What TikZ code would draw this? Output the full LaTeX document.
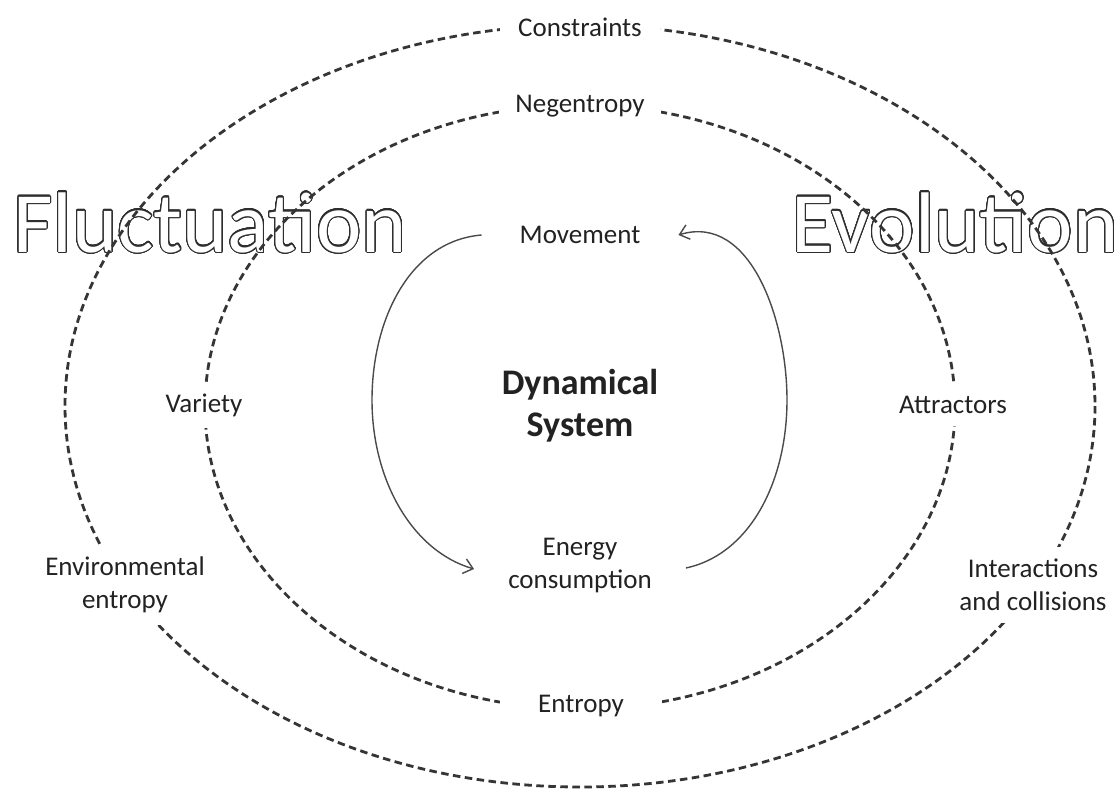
\documentclass[tikz,border=0pt]{standalone}
\usepackage{fontspec}
\setmainfont{Carlito}
\usepackage[copies]{contour}
\contourlength{1.1pt}
\contournumber{32}
\usetikzlibrary{arrows.meta}
\definecolor{ink}{HTML}{222222}
\definecolor{dashink}{HTML}{353535}
\definecolor{arcink}{HTML}{4A4A4A}
\definecolor{outlineink}{HTML}{2E2E2E}
\tikzset{
  ring/.style={draw=dashink, line width=2.8pt, dash pattern=on 7.5pt off 4.5pt},
  lbl/.style={fill=white, text=ink, font=\fontsize{27}{33}\selectfont, align=center, inner xsep=16pt, inner ysep=10pt},
  plain/.style={text=ink, font=\fontsize{27}{33}\selectfont, align=center},
  core/.style={text=ink, font=\bfseries\fontsize{36}{42}\selectfont, align=center},
  hollow/.style={font=\fontsize{86}{90}\selectfont, anchor=base, inner sep=0pt},
  cycle/.style={draw=arcink, line width=1.4pt, -{Straight Barb[length=9pt,width=15pt,line width=1.4pt]}}
}
% hollow lettering: dark rim around white-filled glyphs
\newcommand{\hollowtext}[1]{\contour{outlineink}{\color{white}#1}}
\begin{document}
\begin{tikzpicture}[x=1pt,y=-1pt]
  \useasboundingbox (0,0) rectangle (1120,790);
  \fill[white] (0,0) rectangle (1120,790);

  % large outlined words behind the rings
  \node[hollow] (fluct) at (210,252) {\hollowtext{Fluctuation}};
  \node[hollow] (evol) at (955,252) {\hollowtext{Evolution}};

  % the two dashed rings
  \draw[ring] (580,406) ellipse [x radius=515, y radius=381];
  \draw[ring] (580,407) ellipse [x radius=375, y radius=302];

  % labels sitting on the rings (white boxes break the dashes)
  \node[lbl, inner xsep=18pt] (constr) at (580,27) {Constraints};
  \node[lbl, inner xsep=16pt] (negent) at (580,106) {Negentropy};
  \node[lbl, inner xsep=4pt, inner ysep=12pt] (variety) at (204,405) {Variety};
  \node[lbl, inner xsep=4pt, inner ysep=12pt] (attract) at (953,405) {Attractors};
  \node[lbl, inner xsep=4pt, inner ysep=12pt] (envent) at (125,585) {Environmental\\entropy};
  \node[lbl, inner xsep=4pt, inner ysep=12pt] (interact) at (1033,585) {Interactions\\and collisions};
  \node[lbl, inner xsep=38pt] (entropy) at (581,706) {Entropy};

  % inner cycle
  \node[plain, inner xsep=38pt] (move) at (580,235) {Movement};
  \node[plain, inner xsep=34pt] (energy) at (580,566) {Energy\\consumption};
  \node[core] (dyn) at (580,406) {Dynamical\\System};

  \coordinate (lmid) at (372,400);
  \coordinate (rmid) at (787,400);

  \draw[cycle] (move.west) .. controls +(-72,6) and +(0,-80) .. (lmid)
               .. controls +(0,80) and +(-62,-18) .. ([yshift=-3pt]energy.west);
  \draw[cycle] ([yshift=-2pt]energy.east) .. controls +(65,-14) and +(0,80) .. (rmid)
               .. controls +(0,-80) and +(72,-22) .. (move.east);
\end{tikzpicture}
\end{document}
